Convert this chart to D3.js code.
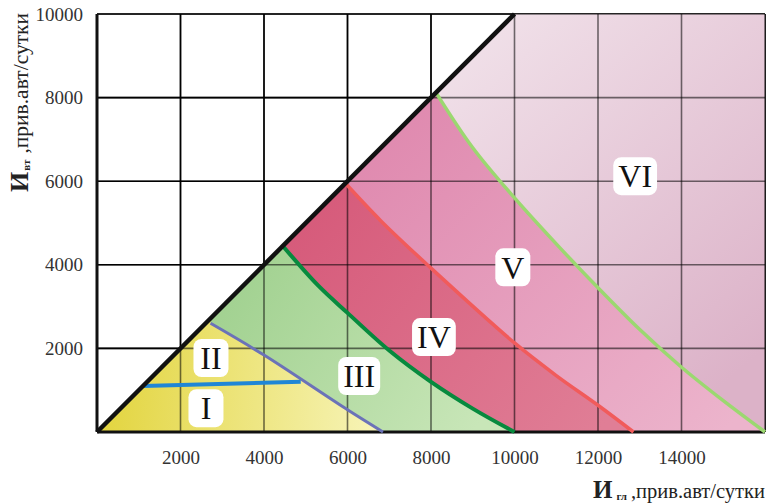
<!DOCTYPE html>
<meta charset="utf-8">
<title>Зоны интенсивности</title>
<style>
  body { margin: 0; background: #fff; }
  text { font-family: "Liberation Serif", "DejaVu Serif", serif; }
  .tick text { fill: #333; font-size: 19px; }
</style>
<body>
<script src="https://d3js.org/d3.v7.min.js"></script>
<script>

var width = 768,
    height = 504;

var xTicks = [2000, 4000, 6000, 8000, 10000, 12000, 14000];
var yTicks = [2000, 4000, 6000, 8000, 10000];
var gridX = [2000, 4000, 6000, 8000, 10000, 12000, 14000];
var gridY = [2000, 4000, 6000, 8000];

// boundary lines between zones, [Игл, Ивт]
var diagonal = [[0, 0], [10000, 10000]];
var blueLine = [[1100, 1100], [4880, 1200]];
var purpleLine = [[2720, 2600], [4000, 1840], [6000, 530], [6850, 0]];
var greenCurve = [[4450, 4450], [5300, 3500], [6000, 2850], [7000, 1950], [8000, 1200], [9000, 560], [10000, 0]];
var redCurve = [[5950, 5950], [6800, 5050], [8000, 3920], [10000, 2130], [11000, 1350], [12000, 640], [12850, 0]];
var lightGreenCurve = [[8120, 8120], [9000, 6800], [10000, 5600], [11000, 4500], [12000, 3450], [13000, 2450], [14000, 1550], [15000, 750], [16000, 0]];

var zoneNames = ["I", "II", "III", "IV", "V", "VI"];
var zoneX = [2610, 2730, 6280, 8070, 9960, 12890];
var zoneY = [570, 1770, 1340, 2270, 3940, 6120];

var x = d3.scaleLinear().domain([0, 16000]).range([97, 765]);
var y = d3.scaleLinear().domain([0, 10000]).range([432, 14]);

var svg = d3.select("body").append("svg")
  .attr("width", width)
  .attr("height", height);

var defs = svg.append("defs");

function gradient(id, x1, y1, x2, y2, c1, c2) {
  var g = defs.append("linearGradient").attr("id", id)
    .attr("gradientUnits", "userSpaceOnUse")
    .attr("x1", x(x1)).attr("y1", y(y1))
    .attr("x2", x(x2)).attr("y2", y(y2));
  g.append("stop").attr("offset", 0).attr("stop-color", c1);
  g.append("stop").attr("offset", 1).attr("stop-color", c2);
}

gradient("gYellow", 0, 1500, 6800, 1000, "#e2d43c", "#f7f4b8");
gradient("gGreen", 3000, 4000, 9000, 0, "#9fd08e", "#c8e6b8");
gradient("gRed", 5000, 5500, 12000, 0, "#d65a7a", "#e07e96");
gradient("gPink", 7000, 8000, 15000, 0, "#df88ae", "#ecb4cc");
gradient("gLight", 9000, 10000, 16000, 2000, "#f1e2ea", "#dcb2c8");

var curveLine = d3.line()
  .x(function(d) { return x(d[0]); })
  .y(function(d) { return y(d[1]); })
  .curve(d3.curveCatmullRom);

var straight = d3.line()
  .x(function(d) { return x(d[0]); })
  .y(function(d) { return y(d[1]); });

function gridLines(g) {
  g.selectAll(".gx").data(gridX).enter().append("line")
    .attr("x1", function(d) { return x(d); }).attr("x2", function(d) { return x(d); })
    .attr("y1", y(0)).attr("y2", y(10000));
  g.selectAll(".gy").data(gridY).enter().append("line")
    .attr("y1", function(d) { return y(d); }).attr("y2", function(d) { return y(d); })
    .attr("x1", x(0)).attr("x2", x(16000));
  // top and right frame
  g.append("line").attr("x1", x(0)).attr("x2", x(16000)).attr("y1", y(10000)).attr("y2", y(10000));
  g.append("line").attr("x1", x(16000)).attr("x2", x(16000)).attr("y1", y(0)).attr("y2", y(10000));
}

// grid under the zones (stays black in the white part)
svg.append("g").attr("stroke", "#000").attr("stroke-width", 1.6).call(gridLines);

// zone from the origin, up the diagonal and back down along a curve
function zonePath(curve) {
  var c = curve[0][0];
  return "M" + x(0) + "," + y(0) + "L" + x(c) + "," + y(c) +
    curveLine(curve).replace(/^M/, "L") + "Z";
}

var zones = svg.append("g");
zones.append("path")
  .attr("d", straight([[0, 0], [10000, 10000], [16000, 10000], [16000, 0]]) + "Z")
  .attr("fill", "url(#gLight)");
zones.append("path").attr("d", zonePath(lightGreenCurve)).attr("fill", "url(#gPink)");
zones.append("path").attr("d", zonePath(redCurve)).attr("fill", "url(#gRed)");
zones.append("path").attr("d", zonePath(greenCurve)).attr("fill", "url(#gGreen)");
zones.append("path").attr("d", zonePath(purpleLine)).attr("fill", "url(#gYellow)");

// grid again, faint, on top of the zones
svg.append("g").attr("stroke", "#000").attr("stroke-opacity", 0.55).attr("stroke-width", 1.6).call(gridLines);

// axes
svg.append("g")
  .attr("transform", "translate(0," + y(0) + ")")
  .call(d3.axisBottom(x).tickValues(xTicks).tickSize(0).tickPadding(19).tickFormat(d3.format("d")))
  .call(function(g) { g.select(".domain").remove(); });

svg.append("g")
  .attr("transform", "translate(" + x(0) + ",0)")
  .call(d3.axisLeft(y).tickValues(yTicks).tickSize(0).tickPadding(14).tickFormat(d3.format("d")))
  .call(function(g) { g.select(".domain").remove(); });

svg.append("line").attr("x1", x(0)).attr("x2", x(16000)).attr("y1", y(0)).attr("y2", y(0))
  .attr("stroke", "#111").attr("stroke-width", 3);
svg.append("line").attr("x1", x(0)).attr("x2", x(0)).attr("y1", y(0)).attr("y2", y(10000))
  .attr("stroke", "#111").attr("stroke-width", 3);

// boundaries
svg.append("path").attr("d", curveLine(purpleLine)).attr("fill", "none").attr("stroke", "#6b72b8").attr("stroke-width", 3);
svg.append("path").attr("d", straight(blueLine)).attr("fill", "none").attr("stroke", "#1f86d6").attr("stroke-width", 4);
svg.append("path").attr("d", curveLine(greenCurve)).attr("fill", "none").attr("stroke", "#078a3e").attr("stroke-width", 4);
svg.append("path").attr("d", curveLine(redCurve)).attr("fill", "none").attr("stroke", "#f15b5b").attr("stroke-width", 3.5);
svg.append("path").attr("d", curveLine(lightGreenCurve)).attr("fill", "none").attr("stroke", "#9bd870").attr("stroke-width", 3.5);
svg.append("path").attr("d", straight(diagonal)).attr("fill", "none").attr("stroke", "#111").attr("stroke-width", 4.5);

// zone labels
var labels = svg.selectAll(".zone").data(zoneNames).enter().append("g")
  .attr("class", "zone")
  .attr("transform", function(d, i) { return "translate(" + x(zoneX[i]) + "," + y(zoneY[i]) + ")"; });

labels.append("rect").attr("fill", "#fff").attr("rx", 8).attr("ry", 8);
labels.append("text")
  .attr("text-anchor", "middle")
  .attr("dy", "0.35em")
  .style("font-size", "32px")
  .attr("fill", "#111")
  .text(function(d) { return d; });

labels.each(function() {
  var g = d3.select(this);
  var w = Math.max(35, g.select("text").node().getComputedTextLength() + 10);
  g.select("rect").attr("x", -w / 2).attr("y", -19).attr("width", w).attr("height", 38);
});

// axis titles
var xt = svg.append("text")
  .attr("x", 765).attr("y", 498)
  .attr("text-anchor", "end")
  .attr("fill", "#222");
xt.append("tspan").style("font-size", "25px").style("font-weight", "bold").text("И");
xt.append("tspan").style("font-size", "11px").style("font-weight", "bold").attr("dx", 4).attr("dy", 2).text("гл");
xt.append("tspan").style("font-size", "20.5px").attr("dx", 4).attr("dy", -2).text(",прив.авт/сутки");

var yt = svg.append("text")
  .attr("transform", "translate(28,13) rotate(-90)")
  .attr("text-anchor", "end")
  .attr("fill", "#222");
yt.append("tspan").style("font-size", "26px").style("font-weight", "bold").text("И");
yt.append("tspan").style("font-size", "11px").style("font-weight", "bold").attr("dx", 1).attr("dy", 2).text("вт");
yt.append("tspan").style("font-size", "21.5px").attr("dx", 6).attr("dy", -2).text(",прив.авт/сутки");

</script>
